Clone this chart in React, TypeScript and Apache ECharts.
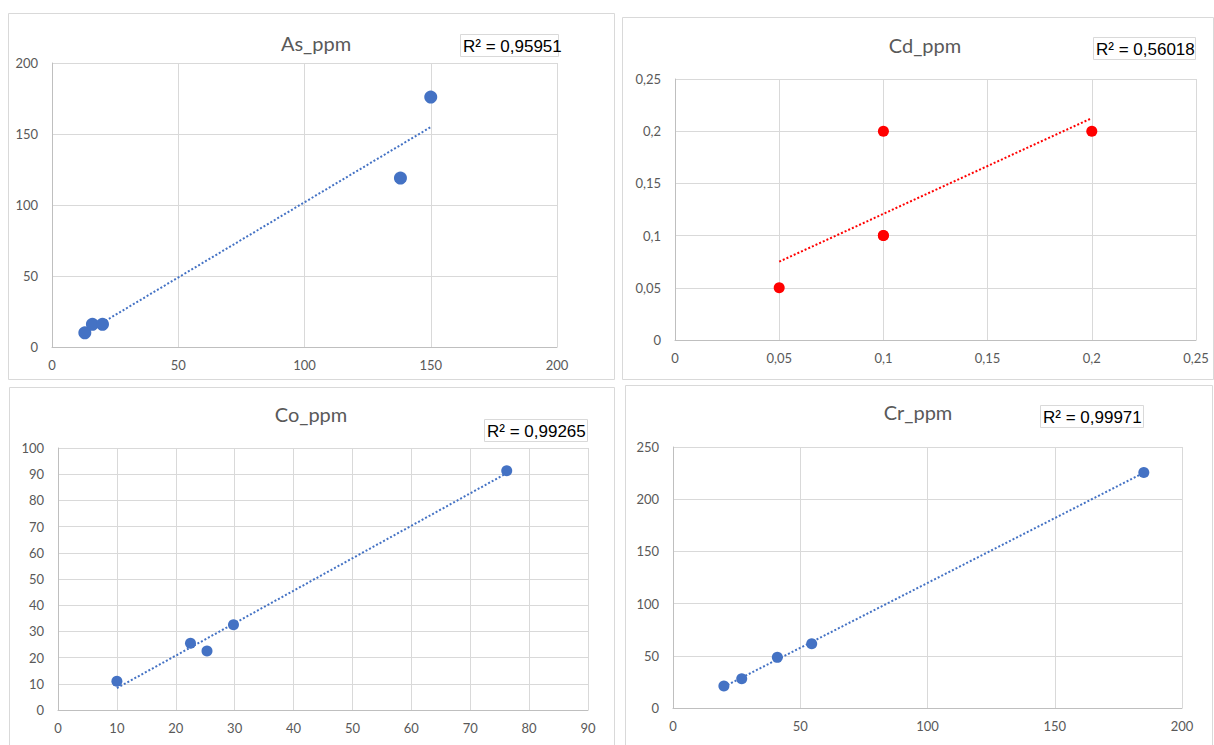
import React, { useEffect, useRef } from "react";
import * as echarts from "echarts";

// ---- data ----
const asX = [13, 16, 20, 138, 150];
const asY = [10, 16, 16, 119, 176];
const cdX = [0.05, 0.1, 0.1, 0.1, 0.2];
const cdY = [0.05, 0.1, 0.1, 0.2, 0.2];
const coX = [10, 22.5, 25.3, 29.8, 76.2];
const coY = [11, 25.5, 22.5, 32.5, 91.3];
const crX = [20, 27, 41, 54.5, 185];
const crY = [21, 28, 48.5, 61.5, 225.5];

const chartTitles = ["As_ppm", "Cd_ppm", "Co_ppm", "Cr_ppm"];
const r2Labels = ["R² = 0,95951", "R² = 0,56018", "R² = 0,99265", "R² = 0,99971"];

// axis ranges: [min, max, interval]
const xRanges = [
  [0, 200, 50],
  [0, 0.25, 0.05],
  [0, 90, 10],
  [0, 200, 50],
];
const yRanges = [
  [0, 200, 50],
  [0, 0.25, 0.05],
  [0, 100, 10],
  [0, 250, 50],
];

const BLUE = "#4472C4";
const RED = "#FF0000";
const LABEL = "#595959";
const GRID = "#d9d9d9";
const FONT = "Lato, 'Open Sans', sans-serif";

function trend(xs: number[], ys: number[]) {
  const n = xs.length;
  const mx = xs.reduce((a, b) => a + b, 0) / n;
  const my = ys.reduce((a, b) => a + b, 0) / n;
  let sxy = 0;
  let sxx = 0;
  for (let i = 0; i < n; i++) {
    sxy += (xs[i] - mx) * (ys[i] - my);
    sxx += (xs[i] - mx) * (xs[i] - mx);
  }
  const b = sxy / sxx;
  const a = my - b * mx;
  const x0 = Math.min(...xs);
  const x1 = Math.max(...xs);
  return [
    [x0, a + b * x0],
    [x1, a + b * x1],
  ];
}

const comma = (v: number) => String(Math.round(v * 10000) / 10000).replace(".", ",");

export default function App() {
  const ref = useRef<HTMLDivElement>(null);
  useEffect(() => {
    if (!ref.current) return;
    const chart = echarts.init(ref.current, undefined, { renderer: "svg" });

    const grids = [
      { left: 52, top: 63, width: 505, height: 284 },
      { left: 675, top: 79, width: 521, height: 261 },
      { left: 58, top: 448, width: 530, height: 262 },
      { left: 673, top: 447, width: 509, height: 261 },
    ];
    const sets = [
      { x: asX, y: asY, color: BLUE, size: 13 },
      { x: cdX, y: cdY, color: RED, size: 11 },
      { x: coX, y: coY, color: BLUE, size: 11 },
      { x: crX, y: crY, color: BLUE, size: 11 },
    ];
    const useComma = [false, true, false, false];

    const axisCommon = (i: number, r: number[]) => ({
      type: "value",
      gridIndex: i,
      min: r[0],
      max: r[1],
      interval: r[2],
      axisLine: { show: true, lineStyle: { color: "#bfbfbf", width: 1 } },
      axisTick: { show: false },
      splitLine: { show: true, lineStyle: { color: GRID, width: 1 } },
      axisLabel: {
        color: LABEL,
        fontFamily: FONT,
        fontSize: 13,
        formatter: useComma[i] ? (v: number) => comma(v) : (v: number) => String(v),
      },
    });

    const xAxis = xRanges.map((r, i) => {
      const a: any = axisCommon(i, r);
      a.axisLabel.margin = 11;
      return a;
    });
    const yAxis = yRanges.map((r, i) => {
      const a: any = axisCommon(i, r);
      a.axisLabel.margin = 14;
      return a;
    });

    const series: any[] = [];
    sets.forEach((s, i) => {
      series.push({
        type: "line",
        xAxisIndex: i,
        yAxisIndex: i,
        data: trend(s.x, s.y),
        symbol: "none",
        lineStyle: { color: s.color, width: 2, type: [2, 2] },
        z: 2,
        silent: true,
      });
      series.push({
        type: "scatter",
        xAxisIndex: i,
        yAxisIndex: i,
        data: s.x.map((x, k) => [x, s.y[k]]),
        symbolSize: s.size,
        itemStyle: { color: s.color, opacity: 1 },
        z: 3,
      });
    });

    const panels = [
      [8, 13, 606, 366],
      [622, 17, 591, 362],
      [9, 387, 605, 370],
      [625, 385, 587, 372],
    ];
    const titlePos = [
      [316, 43],
      [925, 45],
      [311, 414],
      [918, 412],
    ];
    const r2Boxes = [
      [460, 34, 98, 22],
      [1093, 37, 102, 22],
      [484, 419, 103, 22],
      [1040, 405, 103, 22],
    ];

    const graphic: any[] = [];
    panels.forEach((p) => {
      graphic.push({
        type: "rect",
        shape: { x: p[0] + 0.5, y: p[1] + 0.5, width: p[2], height: p[3] },
        style: { fill: "none", stroke: GRID, lineWidth: 1 },
        silent: true,
        z: -10,
      });
    });
    chartTitles.forEach((t, i) => {
      graphic.push({
        type: "text",
        x: titlePos[i][0],
        y: titlePos[i][1],
        style: {
          text: t,
          fill: LABEL,
          font: `20px ${FONT}`,
          textAlign: "center",
          textVerticalAlign: "middle",
        },
      });
    });
    r2Labels.forEach((t, i) => {
      const b = r2Boxes[i];
      graphic.push({
        type: "rect",
        shape: { x: b[0] + 0.5, y: b[1] + 0.5, width: b[2], height: b[3] },
        style: { fill: "#ffffff", stroke: GRID, lineWidth: 1 },
        z: 10,
      });
      graphic.push({
        type: "text",
        x: b[0] + 3,
        y: b[1] + b[3] / 2 + 1,
        style: {
          text: t,
          fill: "#000000",
          font: "17px 'Liberation Sans Narrow', 'Liberation Sans', sans-serif",
          textAlign: "left",
          textVerticalAlign: "middle",
        },
        z: 11,
      });
    });

    chart.setOption({
      animation: false,
      backgroundColor: "#ffffff",
      grid: grids.map((g) => ({ ...g, containLabel: false })),
      xAxis,
      yAxis,
      series,
      graphic,
    });

    return () => chart.dispose();
  }, []);

  return (
    <div
      ref={ref}
      style={{ position: "absolute", left: 0, top: 0, width: 1214, height: 745 }}
    />
  );
}
